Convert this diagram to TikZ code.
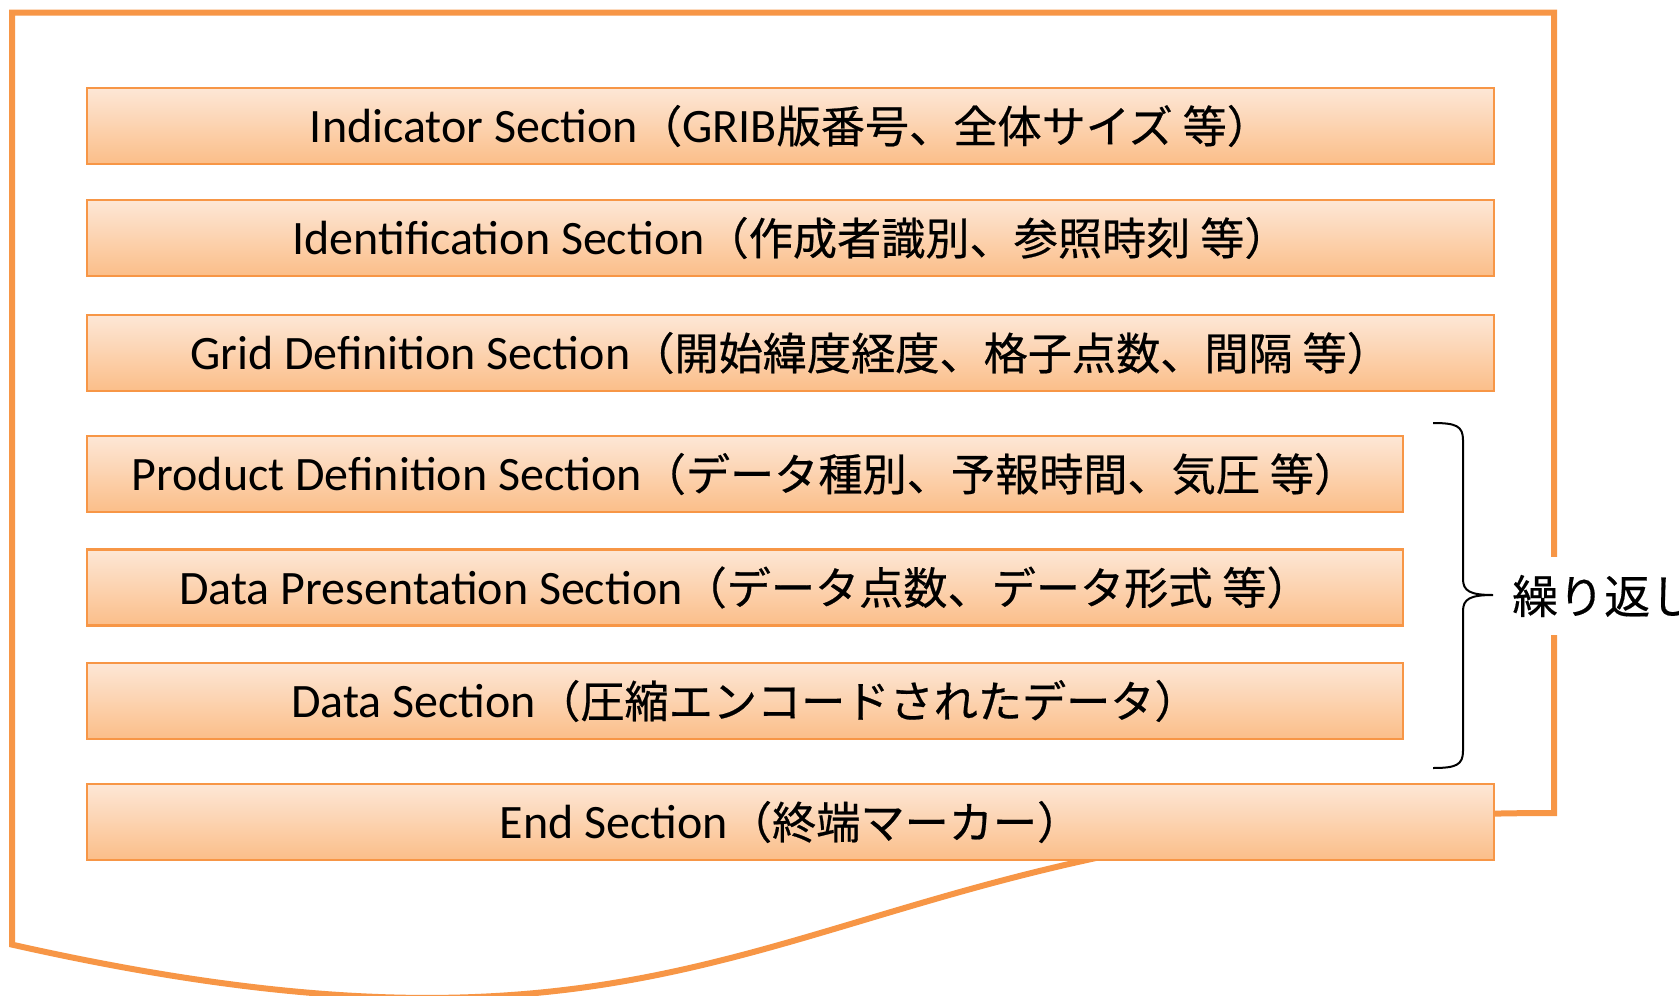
\documentclass[tikz,border=0pt]{standalone}
\usepackage{fontspec}
\setmainfont{Carlito}
\newfontfamily\jpfont[Scale=0.92,FakeBold=0.5]{Noto Sans CJK JP}
\newfontfamily\jplabel[FakeBold=0.3]{Noto Sans CJK JP}
\newcommand\J[1]{{\jpfont #1}}
\definecolor{orng}{HTML}{F79646}
\definecolor{ptop}{HTML}{FDE7D6}
\definecolor{pbot}{HTML}{FBBE89}
\begin{document}
\begin{tikzpicture}[x=1pt,y=-1pt,
  sec/.style={rectangle, draw=orng, line width=2.5pt, top color=ptop, bottom color=pbot,
    minimum height=76pt, inner sep=0pt, font=\fontsize{48}{52}\selectfont, text=black},
  wide/.style={sec, minimum width=1407pt},
  narrow/.style={sec, minimum width=1316pt},
  docline/.style={draw=orng, line width=6pt, line join=miter},
  bracestyle/.style={draw=black, line width=2pt},
  lbl/.style={fill=white, inner xsep=0pt, inner ysep=0pt, minimum height=78pt, anchor=west,
    font=\jplabel\fontsize{46}{50}\selectfont}
]
\useasboundingbox (0,0) rectangle (1679,996);
% document outline
\path[docline, fill=white] (12,12.5) -- (1554,12.5) -- (1554,813)
  .. controls (783,813) and (783,1118) .. (12,944.6) -- cycle;
% sections
\node[wide]   (b1) at (790.5,126)   {Indicator Section\J{（}GRIB\J{版番号、全体サイズ 等）}};
\node[wide]   (b2) at (790.5,238)   {Identification Section\J{（作成者識別、参照時刻 等）}};
\node[wide]   (b3) at (790.5,353)   {Grid Definition Section\J{（開始緯度経度、格子点数、間隔 等）}};
\node[narrow] (b4) at (745,474)     {Product Definition Section\J{（データ種別、予報時間、気圧 等）}};
\node[narrow] (b5) at (745,587.5)   {Data Presentation Section\J{（データ点数、データ形式 等）}};
\node[narrow] (b6) at (745,701)     {Data Section\J{（圧縮エンコードされたデータ）}};
\node[wide]   (b7) at (790.5,822)   {End Section\J{（終端マーカー）}};
% brace
\coordinate (bt) at (1433,423);
\coordinate (bm) at (1493,595);
\coordinate (bb) at (1433,768);
\draw[bracestyle] (bt) .. controls (1456,423) and (1463,426) .. (1463,440)
  -- (1463,579) .. controls (1463,591) and (1470,595) .. (bm)
  .. controls (1470,595) and (1463,599) .. (1463,611)
  -- (1463,751) .. controls (1463,765) and (1456,768) .. (bb);
\node[lbl] (rep) at (1512,596) {繰り返し};
\end{tikzpicture}
\end{document}
